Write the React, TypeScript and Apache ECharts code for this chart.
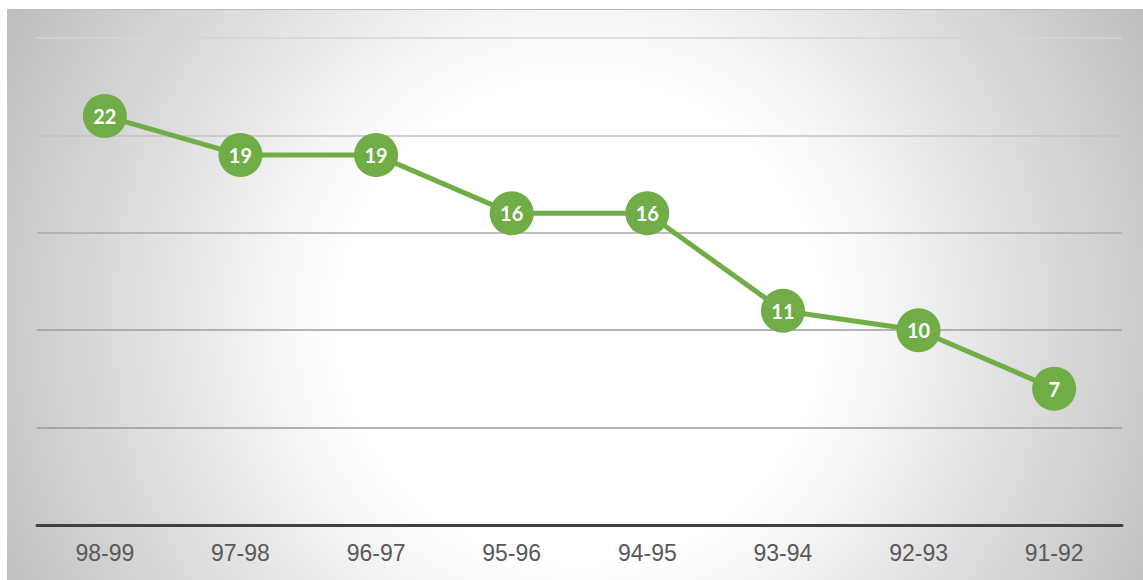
import React, { useEffect, useRef } from "react";
import * as echarts from "echarts";

const categories = ["98-99", "97-98", "96-97", "95-96", "94-95", "93-94", "92-93", "91-92"];
// marker positions as drawn in the picture
const values = [21, 19, 19, 16, 16, 11, 10, 7];
// numbers printed on the markers
const labelTexts = ["22", "19", "19", "16", "16", "11", "10", "7"];
const yMin = 0;
const yMax = 25;
const yInterval = 5;

export default function App() {
  const ref = useRef<HTMLDivElement>(null);
  useEffect(() => {
    if (!ref.current) return;
    const chart = echarts.init(ref.current, null, { renderer: "svg" });
    const W = 1136;
    const H = 571;
    chart.setOption({
      animation: false,
      graphic: [
        {
          type: "rect",
          z: -10,
          silent: true,
          shape: { x: 0, y: 0, width: W, height: H },
          style: {
            fill: {
              type: "radial",
              x: 573,
              y: 311,
              r: 650,
              global: true,
              colorStops: [
                { offset: 0, color: "#ffffff" },
                { offset: 0.38, color: "#ffffff" },
                { offset: 1, color: "#bdbdbd" },
              ],
            },
          },
        },
        {
          type: "line",
          z: -5,
          silent: true,
          shape: { x1: 0, y1: 0.5, x2: W, y2: 0.5 },
          style: { stroke: "#bdbdbd", lineWidth: 1 },
        },
      ],
      grid: { left: 30, right: 21, top: 29, bottom: 55 },
      xAxis: {
        type: "category",
        data: categories,
        boundaryGap: true,
        axisLine: { show: true, lineStyle: { color: "#404040", width: 3 } },
        axisTick: { show: false },
        axisLabel: {
          color: "#595959",
          fontSize: 23,
          fontFamily: "Liberation Sans, Arial, sans-serif",
          margin: 16,
        },
      },
      yAxis: {
        type: "value",
        min: yMin,
        max: yMax,
        interval: yInterval,
        axisLine: { show: false },
        axisTick: { show: false },
        axisLabel: { show: false },
        splitLine: {
          show: true,
          lineStyle: {
            color: ["#999999", "#999999", "#9c9c9c", "#a8a8a8", "#c2c2c2", "#d4d4d4"],
            width: 1.5,
          },
        },
      },
      series: [
        {
          type: "line",
          data: values,
          symbol: "circle",
          symbolSize: 44,
          lineStyle: { color: "#70AD47", width: 5 },
          itemStyle: { color: "#70AD47" },
          label: {
            show: true,
            position: "inside",
            color: "#ffffff",
            fontSize: 20,
            fontWeight: "bold",
            fontFamily: "Lato, sans-serif",
            formatter: (p: any) => labelTexts[p.dataIndex],
          },
        },
      ],
    });
    return () => chart.dispose();
  }, []);
  return (
    <div
      ref={ref}
      style={{ position: "absolute", left: 7, top: 9, width: 1136, height: 571 }}
    />
  );
}
